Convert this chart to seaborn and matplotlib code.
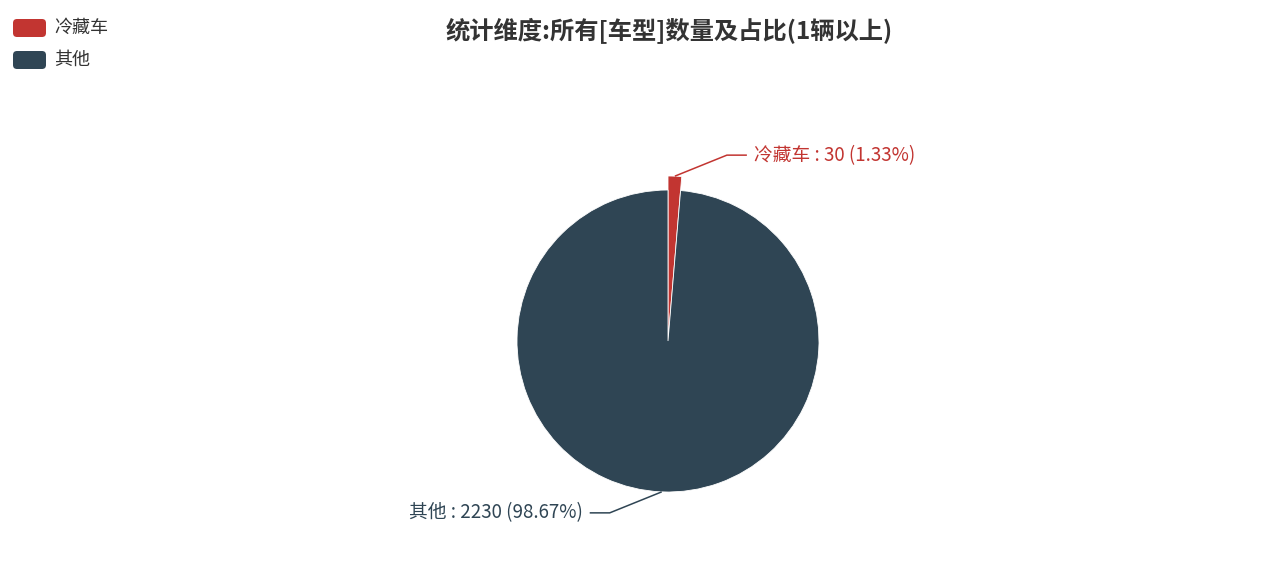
import numpy as np
import matplotlib.pyplot as plt
from matplotlib.patches import FancyBboxPatch
import seaborn as sns

# data
categories = ["冷藏车", "其他"]
counts = [30, 2230]
title = "统计维度:所有[车型]数量及占比(1辆以上)"

colors = ["#c23531", "#2f4554"]

sns.set_theme(style="white")
plt.rcParams["font.family"] = ["Noto Sans CJK SC", "DejaVu Sans"]

W, H = 1266, 569
fig = plt.figure(figsize=(W / 100, H / 100), dpi=100)
ax = fig.add_axes([0, 0, 1, 1])

cx, cy = 668, H - 341
radius = 151

wedges, _ = ax.pie(counts, colors=colors, startangle=90, counterclock=False,
                   radius=radius, center=(cx, cy), frame=True,
                   wedgeprops={"linewidth": 0.6, "edgecolor": "white"})
# highlighted slice drawn larger (hover emphasis)
wedges[0].set_radius(radius + 14)

ax.set_xlim(0, W)
ax.set_ylim(0, H)
ax.set_aspect("equal")
ax.axis("off")

# labels with guide lines
total = sum(counts)
for w, name, val, col in zip(wedges, categories, counts, colors):
    mid = np.deg2rad((w.theta1 + w.theta2) / 2)
    r = w.r
    x0, y0 = cx + r * np.cos(mid), cy + r * np.sin(mid)
    side = 1 if np.cos(mid) >= 0 else -1
    vert = 1 if np.sin(mid) >= 0 else -1
    x1, y1 = x0 + side * 52, y0 + vert * 21
    x2 = x1 + side * 20
    ax.plot([x0, x1, x2], [y0, y1, y1], color=col, lw=1.1,
            solid_capstyle="butt")
    ax.text(x2 + side * 7, y1, f"{name} : {val} ({val / total * 100:.2f}%)",
            color=col, fontsize=13.5, ha="left" if side > 0 else "right",
            va="center")

ax.text(669, H - 31, title, ha="center", va="center", fontsize=17.5,
        fontweight="bold", color="#333333")

# legend
for i, (name, col) in enumerate(zip(categories, colors)):
    yc = H - (28 + i * 32)
    ax.add_patch(FancyBboxPatch((13, yc - 9), 33, 18,
                                boxstyle="round,pad=0,rounding_size=4",
                                facecolor=col, edgecolor="none"))
    ax.text(54, yc, name, ha="left", va="center", fontsize=13,
            color="#333333")

fig.savefig("out.png", dpi=100, facecolor="white")
